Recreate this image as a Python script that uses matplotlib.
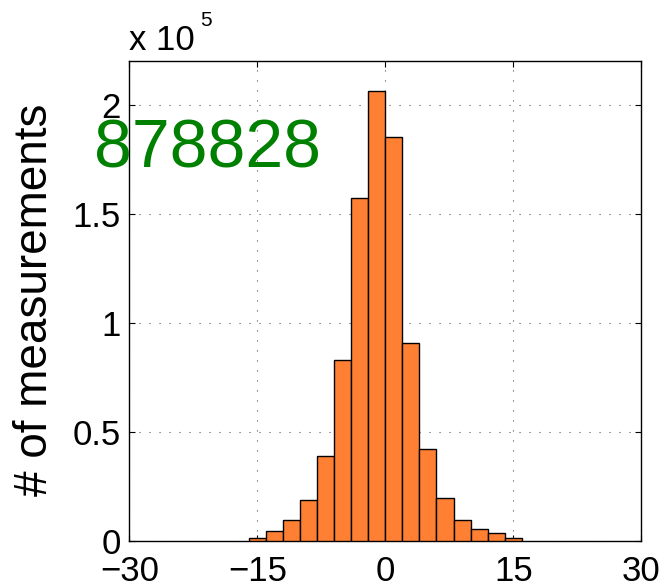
import matplotlib
matplotlib.use("Agg")
import matplotlib.pyplot as plt
from matplotlib.ticker import FuncFormatter

plt.rcParams['font.family'] = ['Liberation Sans', 'DejaVu Sans']

# Histogram data (bin edges of width 2 from -16 to 16)
bin_edges = [-16, -14, -12, -10, -8, -6, -4, -2, 0, 2, 4, 6, 8, 10, 12, 14, 16]
counts = [1400, 4400, 9300, 18600, 39000, 83000, 157300, 206400,
          185000, 90600, 42100, 19400, 9600, 5300, 3500, 1400]
x_ticks = [-30, -15, 0, 15, 30]
y_ticks = [0, 50000, 100000, 150000, 200000]
total_label = "878828"
ylabel = "# of measurements"

W, H = 662, 587
fig = plt.figure(figsize=(W / 100, H / 100), dpi=100)
ax = fig.add_axes([129.3 / W, (H - 540.7) / H, (641.3 - 129.3) / W, (540.7 - 61) / H])

centers = [(bin_edges[i] + bin_edges[i + 1]) / 2 for i in range(len(counts))]
widths = [bin_edges[i + 1] - bin_edges[i] for i in range(len(counts))]
ax.bar(centers, counts, width=widths, color='#FF8033', edgecolor='black',
       linewidth=1.0, zorder=3)

ax.set_xlim(-30, 30)
ax.set_ylim(0, 220000)
ax.set_xticks(x_ticks)
ax.set_xticklabels([("\u2212" if t < 0 else "") + str(abs(t)) for t in x_ticks])
ax.set_yticks(y_ticks)
ax.yaxis.set_major_formatter(FuncFormatter(lambda v, p: ('%g' % (v / 1e5))))

ax.grid(True, linestyle=(0, (1, 8)), color='#555555', linewidth=0.8, zorder=0)
ax.set_axisbelow(True)

ax.tick_params(axis='both', which='major', direction='in', length=4, width=0.8,
               labelsize=25, top=True, right=True)
ax.tick_params(axis='x', pad=10)
ax.tick_params(axis='y', pad=6)
for s in ax.spines.values():
    s.set_linewidth(1.0)
    s.set_color('black')

fig.text(35 / W, 1 - 300 / H, ylabel, rotation=90, ha='center', va='center',
         fontsize=33)

fig.text(129 / W, 1 - 50 / H, "x 10", ha='left', va='baseline', fontsize=25)
fig.text(200 / W, 1 - 26 / H, "5", ha='left', va='baseline', fontsize=15)

ax.text(94 / W, 1 - 168 / H, total_label, transform=fig.transFigure,
        color='#008000', fontsize=49, ha='left', va='baseline', zorder=5)

fig.savefig('out.png', dpi=100)
